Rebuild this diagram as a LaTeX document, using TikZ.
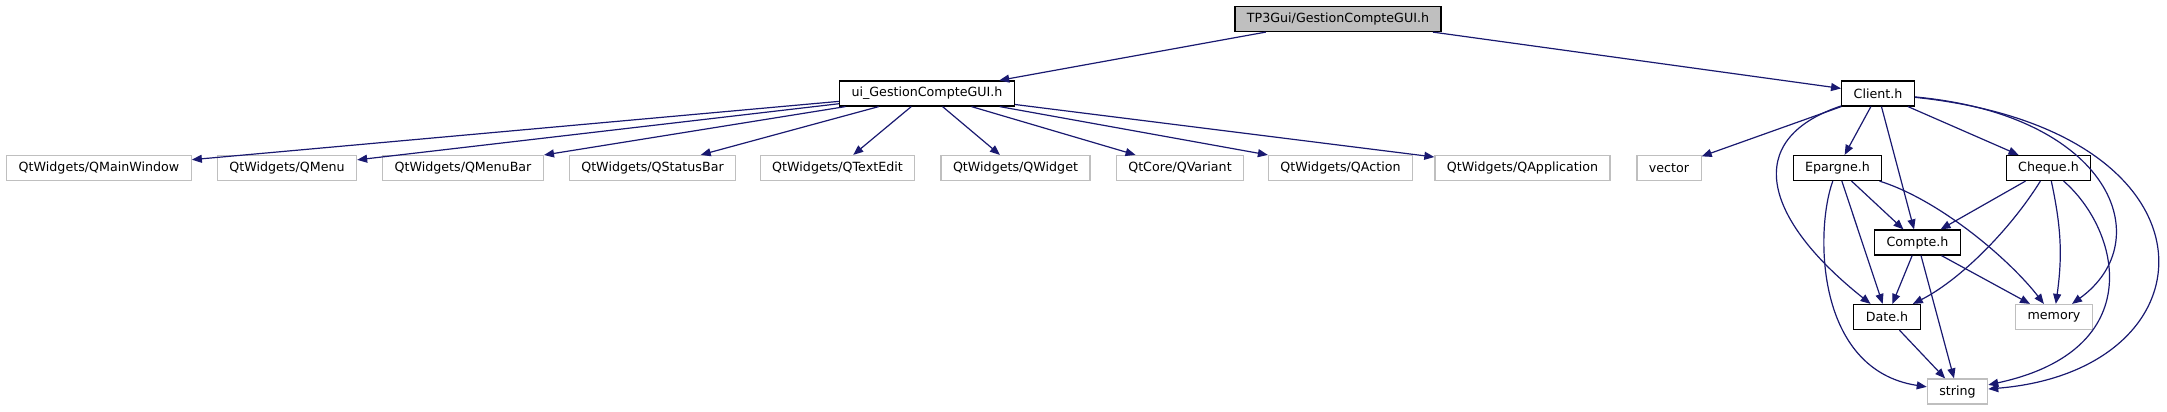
\documentclass[tikz,border=0pt]{standalone}
\usepackage{fontspec}
\setmainfont{DejaVu Sans}
\usetikzlibrary{arrows.meta}
\definecolor{edgeblue}{HTML}{191970}
\definecolor{boxgrey}{HTML}{BFBFBF}
\begin{document}
\begin{tikzpicture}[x=0.75pt,y=-0.75pt,
  hdr/.style={draw=black,line width=0.9pt,inner xsep=9pt,inner ysep=0pt,
    minimum height=18.75pt,font=\fontsize{9.5}{11}\selectfont},
  ext/.style={hdr,draw=boxgrey},
  dep/.style={draw=edgeblue,line width=0.9pt,-{Triangle[length=7.5pt,width=6pt]}}]
\useasboundingbox (0,0) rectangle (2167,411);

\node[hdr,fill=boxgrey] (top) at (1338,19) {TP3Gui/GestionCompteGUI.h};
\node[hdr] (ui) at (927,93.5) {ui\_GestionCompteGUI.h};
\node[hdr] (client) at (1878,93.5) {Client.h};

\node[ext] (qmainwindow) at (99,168) {QtWidgets/QMainWindow};
\node[ext] (qmenu) at (287,168) {QtWidgets/QMenu};
\node[ext] (qmenubar) at (463,168) {QtWidgets/QMenuBar};
\node[ext] (qstatusbar) at (652.5,168) {QtWidgets/QStatusBar};
\node[ext] (qtextedit) at (837.5,168) {QtWidgets/QTextEdit};
\node[ext] (qwidget) at (1015.5,168) {QtWidgets/QWidget};
\node[ext] (qvariant) at (1180,168) {QtCore/QVariant};
\node[ext] (qaction) at (1340.5,168) {QtWidgets/QAction};
\node[ext] (qapplication) at (1522.5,168) {QtWidgets/QApplication};
\node[ext] (vector) at (1669,168) {vector};
\node[hdr] (epargne) at (1837.5,168) {Epargne.h};
\node[hdr] (cheque) at (2048.5,168) {Cheque.h};
\node[hdr] (compte) at (1917.5,242.5) {Compte.h};
\node[hdr] (date) at (1887,317) {Date.h};
\node[ext] (memory) at (2054,317) {memory};
\node[ext] (string) at (1957.5,391.5) {string};

\draw[dep] (top) -- (ui);
\draw[dep] (top) -- (client);
\foreach \qt in {qmainwindow,qmenu,qmenubar,qstatusbar,qtextedit,qwidget,qvariant,qaction,qapplication}
  \draw[dep] (ui) -- (\qt);

\foreach \hd in {vector,epargne,compte,cheque}
  \draw[dep] (client) -- (\hd);
\draw[dep] (client) .. controls (1740,140) and (1765,220) .. (date);
\draw[dep] (client) .. controls (2110,115) and (2160,240) .. (memory);
\draw[dep] (client) .. controls (2230,130) and (2220,370) .. (string);

\draw[dep] (epargne) -- (compte);
\draw[dep] (epargne) -- (date);
\draw[dep] (epargne) .. controls (1940,200) and (2010,260) .. (memory);
\draw[dep] (epargne) .. controls (1815,230) and (1815,370) .. (string);

\draw[dep] (cheque) -- (compte);
\draw[dep] (cheque) .. controls (2010,230) and (1960,280) .. (date);
\draw[dep] (cheque) to[bend left=10] (memory);
\draw[dep] (cheque) .. controls (2120,230) and (2150,350) .. (string);

\draw[dep] (compte) -- (date);
\draw[dep] (compte) -- (memory);
\draw[dep] (compte) -- (string);
\draw[dep] (date) -- (string);
\end{tikzpicture}
\end{document}
